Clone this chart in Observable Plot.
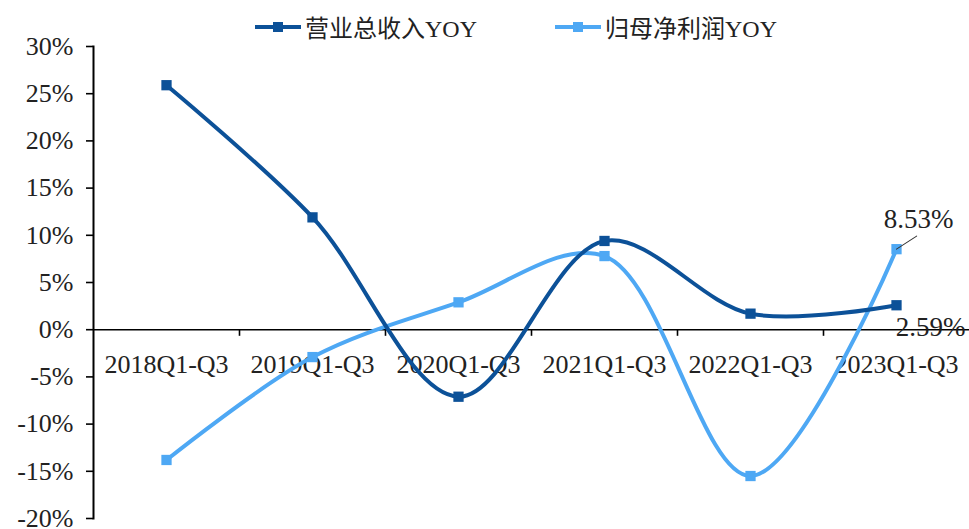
<!DOCTYPE html>
<html><head><meta charset="utf-8">
<script src="https://cdn.jsdelivr.net/npm/d3@7"></script>
<script src="https://cdn.jsdelivr.net/npm/@observablehq/plot@0.6"></script>
<style>
body{margin:0;background:#fff;}
#wrap{position:relative;width:969px;height:529px;overflow:hidden;}
.leg{position:absolute;top:9px;display:flex;align-items:center;font-family:"Liberation Serif","Noto Sans CJK SC",serif;font-size:24px;color:#222;white-space:nowrap;}
.leg svg{margin-right:4px;}
</style></head>
<body>
<div id="wrap"></div>
<script>
const categories = ["2018Q1-Q3","2019Q1-Q3","2020Q1-Q3","2021Q1-Q3","2022Q1-Q3","2023Q1-Q3"];
const revenueYoY = [25.9, 11.9, -7.1, 9.4, 1.7, 2.59];
const profitYoY = [-13.8, -2.9, 2.9, 7.8, -15.5, 8.53];
const seriesNames = ["营业总收入YOY","归母净利润YOY"];
const seriesColors = ["#0C5198","#4EA8F4"];
const yTicks = [-20,-15,-10,-5,0,5,10,15,20,25,30];

const W = 969, H = 529, mL = 93, mR = 0, mT = 46, mB = 11;
const bw = (W - mL - mR) / categories.length;
const font = "'Liberation Serif','Times New Roman',serif";

const rev = categories.map((c,i)=>({c, v: revenueYoY[i]}));
const pro = categories.map((c,i)=>({c, v: profitYoY[i]}));
const last = categories.length - 1;

const noHead = {draw(ctx, l){ ctx.moveTo(0,0); ctx.lineTo(0,-l); }};

const chart = Plot.plot({
  width: W, height: H,
  marginLeft: mL, marginRight: mR, marginTop: mT, marginBottom: mB,
  style: {fontFamily: font, fontSize: "26px", color: "#222", background: "#fff", overflow: "visible"},
  x: {type: "band", domain: categories, padding: 0, axis: null},
  y: {domain: [-20, 30], axis: null},
  marks: [
    Plot.ruleY([0], {stroke: "#000", strokeWidth: 1.6}),
    Plot.ruleX(categories.slice(1), {x: d=>d, y1: 0, y2: -0.7, dx: -bw/2, stroke: "#000", strokeWidth: 1.6}),
    Plot.text(categories, {x: d=>d, y: 0, dy: 35, text: d=>d, fontSize: 26, fill: "#222"}),
    Plot.axisY({ticks: yTicks, tickFormat: d=>d+"%", tickSize: 7, tickPadding: 13, fontSize: 26, label: null, stroke: "#000", strokeWidth: 1.6}),
    Plot.frame({anchor: "left", stroke: "#000", strokeWidth: 2}),
    Plot.line(pro, {x: "c", y: "v", curve: "catmull-rom", stroke: seriesColors[1], strokeWidth: 4}),
    Plot.line(rev, {x: "c", y: "v", curve: "catmull-rom", stroke: seriesColors[0], strokeWidth: 4}),
    Plot.dot(pro, {x: "c", y: "v", symbol: "square", r: 5.8, fill: seriesColors[1]}),
    Plot.dot(rev, {x: "c", y: "v", symbol: "square", r: 5.8, fill: seriesColors[0]}),
    Plot.vector([pro[last]], {x: "c", y: "v", length: 24, rotate: 57, anchor: "start", shape: noHead, stroke: "#333", strokeWidth: 1}),
    Plot.text([pro[last]], {x: "c", y: "v", text: d=>d.v.toFixed(2)+"%", dx: 22, dy: -30, fontSize: 27, fill: "#222"}),
    Plot.text([rev[last]], {x: "c", y: "v", text: d=>d.v.toFixed(2)+"%", dx: 34, dy: 22, fontSize: 27, fill: "#222"})
  ]
});

const wrap = document.getElementById("wrap");
wrap.appendChild(chart);
const lefts = [255, 555];
seriesNames.forEach((n,i)=>{
  const d = document.createElement("div");
  d.className = "leg";
  d.style.left = lefts[i] + "px";
  d.innerHTML = `<svg width="46" height="14"><line x1="0" y1="7" x2="46" y2="7" stroke="${seriesColors[i]}" stroke-width="4"/><rect x="18" y="2" width="10" height="10" fill="${seriesColors[i]}"/></svg><span>${n}</span>`;
  wrap.appendChild(d);
});
</script>
</body></html>
